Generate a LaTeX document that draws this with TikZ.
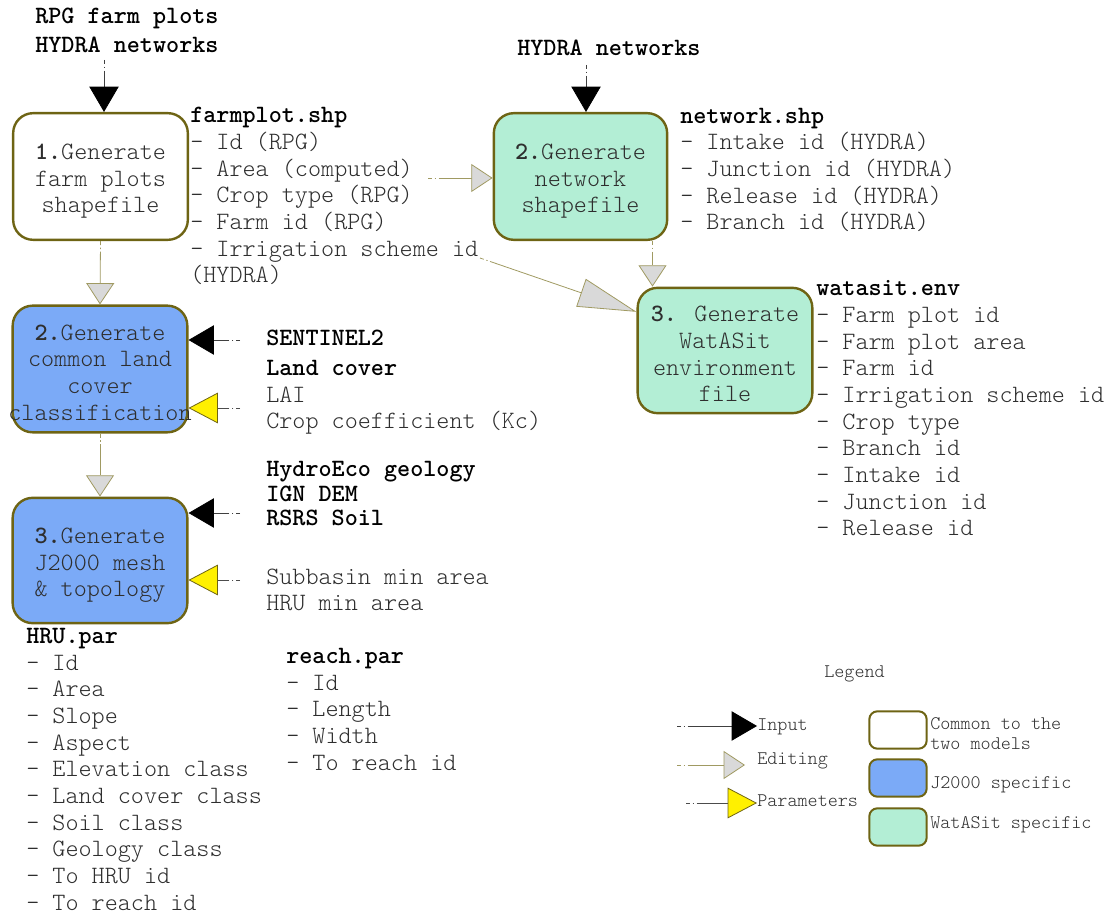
\documentclass[tikz,border=0pt]{standalone}
\usepackage{fontspec}
\usetikzlibrary{arrows.meta,positioning}

\definecolor{stageline}{HTML}{6E6414}
\definecolor{jtwo}{HTML}{7BAAF7}
\definecolor{watasit}{HTML}{B3EED5}
\definecolor{editline}{HTML}{A09A62}
\definecolor{editfill}{HTML}{D9D9D9}
\definecolor{paramyellow}{HTML}{FFF000}
\definecolor{txt}{HTML}{2E2E2E}

\newcommand\ftitle[1]{\textcolor{black}{\textbf{#1}}}

\tikzset{
  stage/.style={draw=stageline, line width=1.8pt, rounded corners=15pt,
    minimum width=131pt, minimum height=95pt, inner sep=0pt,
    align=center, text=txt},
  listtext/.style={anchor=base west, align=left, inner sep=0pt, text=txt},
  legendtext/.style={listtext,
    font=\ttfamily\fontseries{l}\fontsize{14.4}{15}\selectfont},
  lead/.style={line width=0.6pt,
    dash pattern=on 3pt off 2pt on 1pt off 2pt on 400pt off 1pt},
  inarrow/.style={lead, draw=black!75,
    -{Triangle[length=19pt,width=22pt,color=black,fill=black]}},
  editarrow/.style={lead, draw=editline,
    -{Triangle[length=16pt,width=21pt,color=editline,fill=editfill]}},
  bigedit/.style={lead, draw=editline,
    -{Triangle[length=44pt,width=22pt,color=editline,fill=editfill]}},
  pararrow/.style={lead, draw=black!70,
    -{Triangle[length=22pt,width=23pt,color=stageline,fill=paramyellow]}}
}

\begin{document}
\begin{tikzpicture}[x=0.75pt,y=-0.75pt,
    font=\ttfamily\fontseries{l}\fontsize{18.7}{20}\selectfont]
  \useasboundingbox (0,0) rectangle (1111,912);

  % processing steps (text sits a little low in the boxes)
  \node[stage,fill=white] (gFarm) at (100.5,176.5)
    {\rule{0pt}{19pt}\textbf{1.}Generate\\farm plots\\shapefile};
  \node[stage,fill=watasit,minimum width=130pt] (gNet) at (580.5,176.5)
    {\rule{0pt}{19pt}\textbf{2.}Generate\\network\\shapefile};
  \node[stage,fill=watasit,minimum height=94pt] (gEnv) at (725,350.5)
    {\rule{0pt}{17pt}\textbf{3.} Generate\\WatASit\\environment\\file};
  \node[stage,fill=jtwo] (gLand) at (100,369)
    {\rule{0pt}{17pt}\textbf{2.}Generate\\common land\\cover\\\makebox[0pt]{classification}};
  \node[stage,fill=jtwo,minimum height=94pt] (gMesh) at (100,560.5)
    {\rule{0pt}{19pt}\textbf{3.}Generate\\J2000 mesh\\\& topology};

  % inputs and outputs (base = last line)
  \node[listtext] (rpgIn) at (35,53)
    {\ftitle{RPG farm plots}\\[2pt]\ftitle{HYDRA networks}};
  \node[listtext] (hydraIn) at (517,56) {\ftitle{HYDRA networks}};
  \node[listtext] (farmOut) at (190,283)
    {\ftitle{farmplot.shp}\\- Id (RPG)\\- Area (computed)\\- Crop type (RPG)\\
     - Farm id (RPG)\\- Irrigation scheme id\\(HYDRA)};
  \node[listtext] (netOut) at (680,230)
    {\ftitle{network.shp}\\- Intake id (HYDRA)\\- Junction id (HYDRA)\\
     - Release id (HYDRA)\\- Branch id (HYDRA)};
  \node[listtext] (envOut) at (816,536)
    {\ftitle{watasit.env}\\- Farm plot id\\- Farm plot area\\- Farm id\\
     - Irrigation scheme id\\- Crop type\\- Branch id\\- Intake id\\
     - Junction id\\- Release id};
  \node[listtext] (senIn) at (266,346) {\ftitle{SENTINEL2}};
  \node[listtext] (laiIn) at (266,429)
    {\ftitle{Land cover}\\LAI\\Crop coefficient (Kc)};
  \node[listtext,font=\ttfamily\fontseries{l}\fontsize{18.7}{18.5}\selectfont]
    (geoIn) at (266,526)
    {\ftitle{HydroEco geology}\\\ftitle{IGN DEM}\\\ftitle{RSRS Soil}};
  \node[listtext] (subIn) at (266,611) {Subbasin min area\\HRU min area};
  \node[listtext] (hruOut) at (26,910)
    {\ftitle{HRU.par}\\- Id\\- Area\\- Slope\\- Aspect\\- Elevation class\\
     - Land cover class\\- Soil class\\- Geology class\\- To HRU id\\
     - To reach id};
  \node[listtext] (reachOut) at (286,770)
    {\ftitle{reach.par}\\- Id\\- Length\\- Width\\- To reach id};

  % connectors
  \coordinate (tRpg) at (104,60);
  \coordinate (tHydra) at (586,65);
  \coordinate (tArea) at (428,178);
  \coordinate (tIrr) at (480,258);
  \coordinate (tSen) at (240,340);
  \coordinate (tLai) at (240,408);
  \coordinate (tGeo) at (240,513);
  \coordinate (tSub) at (240,580);
  \draw[inarrow] (tRpg) -- (tRpg |- gFarm.north);
  \draw[inarrow] (tHydra) -- (tHydra |- gNet.north);
  \draw[editarrow] (tArea) -- (tArea -| gNet.west);
  \draw[editarrow] (gFarm.south) -- (gLand.north);
  \draw[editarrow] ([xshift=54pt]gNet.south) -- ([xshift=54pt]gNet.south |- gEnv.north);
  \draw[bigedit] (tIrr) -- ([yshift=29pt]gEnv.west);
  \draw[editarrow] (gLand.south) -- (gMesh.north);
  \draw[inarrow] (tSen) -- (tSen -| gLand.east);
  \draw[pararrow] (tLai) -- (tLai -| gLand.east);
  \draw[inarrow] (tGeo) -- (tGeo -| gMesh.east);
  \draw[pararrow] (tSub) -- (tSub -| gMesh.east);

  % legend
  \node[legendtext] (lgTitle) at (824,677) {Legend};
  \node[legendtext] (lgInput) at (757,730) {Input};
  \node[legendtext] (lgEdit) at (757,764) {Editing};
  \node[legendtext] (lgParam) at (757,806) {Parameters};
  \coordinate (lgI) at (677,726);
  \coordinate (lgE) at (677,765);
  \coordinate (lgP) at (686,803);
  \draw[inarrow] (lgI) -- (lgI -| lgInput.west);
  \draw[editarrow] (lgE) -- ([xshift=-9pt]lgE -| lgEdit.west);
  \draw[pararrow] (lgP) -- (lgP -| lgParam.west);
  \node[stage,fill=white,minimum width=43pt,minimum height=28pt,
        rounded corners=6pt,line width=1.5pt] (lgCommon) at (898,730) {};
  \node[stage,fill=jtwo,minimum width=43pt,minimum height=28pt,
        rounded corners=6pt,line width=1.5pt] (lgJtwo) at (898,778) {};
  \node[stage,fill=watasit,minimum width=43pt,minimum height=28pt,
        rounded corners=6pt,line width=1.5pt] (lgWat) at (898,827) {};
  \node[legendtext] (lgCommonTxt) at (930,749) {Common to the\\two models};
  \node[legendtext] (lgJtwoTxt) at (930,788) {J2000 specific};
  \node[legendtext] (lgWatTxt) at (930,828) {WatASit specific};
\end{tikzpicture}
\end{document}
